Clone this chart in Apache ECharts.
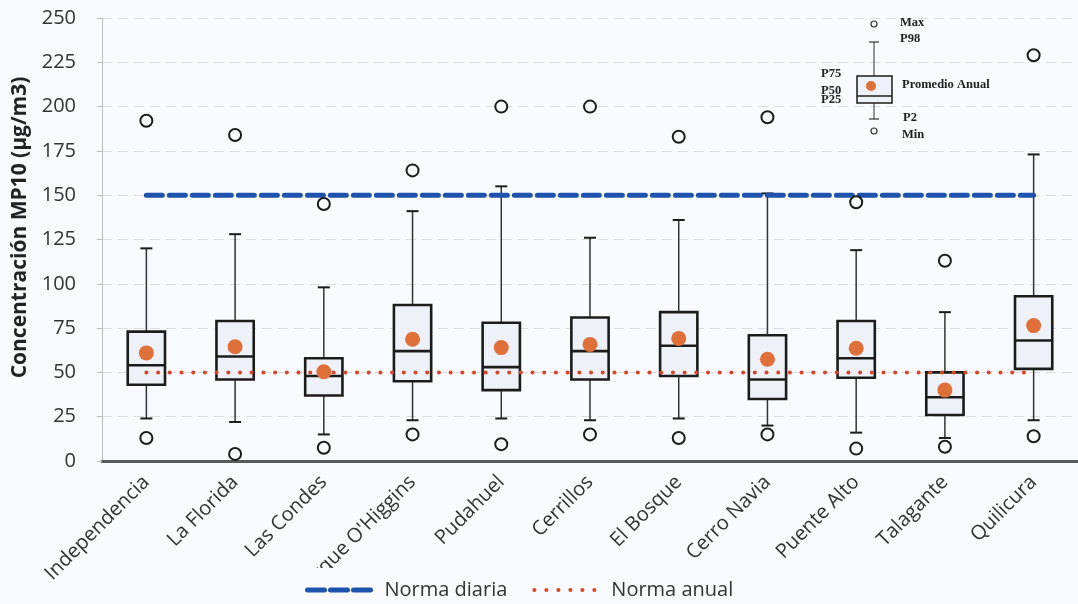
<!DOCTYPE html>
<html>
<head>
<meta charset="utf-8">
<script src="https://cdn.jsdelivr.net/npm/echarts@6/dist/echarts.min.js"></script>
<style>
  html, body { margin: 0; padding: 0; background: #f9fafd; }
  #chart { width: 1078px; height: 604px; }
</style>
</head>
<body>
<div id="chart"></div>
<script>
// Estaciones de monitoreo
const stations = ['Independencia', 'La Florida', 'Las Condes', "Parque O'Higgins", 'Pudahuel',
  'Cerrillos', 'El Bosque', 'Cerro Navia', 'Puente Alto', 'Talagante', 'Quilicura'];

// Estadísticos de MP10 por estación (µg/m3)
const maxVals  = [192, 184, 145, 164, 200, 200, 183, 194, 146, 113, 229];
const p98Vals  = [120, 128,  98, 141, 155, 126, 136, 151, 119,  84, 173];
const p75Vals  = [ 73,  79,  58,  88,  78,  81,  84,  71,  79,  50,  93];
const p50Vals  = [ 54,  59,  48,  62,  53,  62,  65,  46,  58,  36,  68];
const p25Vals  = [ 43,  46,  37,  45,  40,  46,  48,  35,  47,  26,  52];
const p2Vals   = [ 24,  22,  15,  23,  24,  23,  24,  20,  16,  13,  23];
const minVals  = [ 13,   4, 7.5,  15, 9.5,  15,  13,  15,   7,   8,  14];
const meanVals = [ 61, 64.5, 50.4, 68.7, 64, 65.8, 69.2, 57.4, 63.6, 40, 76.4];

// Normas de calidad
const normaDiaria = 150;
const normaAnual = 50;

// Eje Y
const yTicks = [0, 25, 50, 75, 100, 125, 150, 175, 200, 225, 250];

const BG = '#f9fafd';
const BOX_FILL = '#eef1f8';
const INK = '#1c1c1c';
const ORANGE = '#e0703a';
const BLUE = '#1d52ad';
const RED = '#d9452b';

const boxData = stations.map((_, i) => [i, p2Vals[i], p25Vals[i], p50Vals[i], p75Vals[i], p98Vals[i]]);

function renderBox(params, api) {
  const i = api.value(0);
  const x = api.coord([i, 0])[0];
  const y2 = api.coord([i, api.value(1)])[1];
  const y25 = api.coord([i, api.value(2)])[1];
  const y50 = api.coord([i, api.value(3)])[1];
  const y75 = api.coord([i, api.value(4)])[1];
  const y98 = api.coord([i, api.value(5)])[1];
  const band = api.size([1, 0])[0];
  const hw = band * 0.21;
  const cap = 6;
  const thin = { stroke: '#333', lineWidth: 1.5 };
  return {
    type: 'group',
    children: [
      { type: 'line', shape: { x1: x, y1: y75, x2: x, y2: y98 }, style: thin },
      { type: 'line', shape: { x1: x - cap, y1: y98, x2: x + cap, y2: y98 }, style: { stroke: INK, lineWidth: 2 } },
      { type: 'line', shape: { x1: x, y1: y25, x2: x, y2: y2 }, style: thin },
      { type: 'line', shape: { x1: x - cap, y1: y2, x2: x + cap, y2: y2 }, style: { stroke: INK, lineWidth: 2 } },
      { type: 'rect', shape: { x: x - hw, y: y75, width: hw * 2, height: y25 - y75 },
        style: { fill: BOX_FILL, stroke: INK, lineWidth: 2.6 } },
      { type: 'line', shape: { x1: x - hw, y1: y50, x2: x + hw, y2: y50 }, style: { stroke: INK, lineWidth: 2.6 } }
    ]
  };
}

// Leyenda esquemática de los estadísticos (esquina superior derecha)
const keyFont = 'bold 12.5px "Liberation Serif", "DejaVu Serif", serif';
function keyText(text, x, y) {
  return { type: 'text', x: x, y: y, style: { text: text, font: keyFont, fill: '#222', textVerticalAlign: 'middle' }, z: 10 };
}
const kx = 874;
const keyGraphic = [
  { type: 'circle', shape: { cx: kx, cy: 24, r: 3 }, style: { fill: 'none', stroke: '#333', lineWidth: 1.2 }, z: 10 },
  { type: 'line', shape: { x1: kx, y1: 42, x2: kx, y2: 76 }, style: { stroke: '#333', lineWidth: 1 }, z: 10 },
  { type: 'line', shape: { x1: kx - 5, y1: 42, x2: kx + 5, y2: 42 }, style: { stroke: '#333', lineWidth: 1.2 }, z: 10 },
  { type: 'rect', shape: { x: kx - 17, y: 76, width: 35, height: 27 }, style: { fill: BOX_FILL, stroke: INK, lineWidth: 1.5 }, z: 10 },
  { type: 'line', shape: { x1: kx - 17, y1: 96, x2: kx + 18, y2: 96 }, style: { stroke: INK, lineWidth: 1.5 }, z: 10 },
  { type: 'circle', shape: { cx: kx - 3, cy: 86, r: 5 }, style: { fill: ORANGE }, z: 11 },
  { type: 'line', shape: { x1: kx, y1: 103, x2: kx, y2: 119 }, style: { stroke: '#333', lineWidth: 1 }, z: 10 },
  { type: 'line', shape: { x1: kx - 5, y1: 119, x2: kx + 5, y2: 119 }, style: { stroke: '#333', lineWidth: 1.2 }, z: 10 },
  { type: 'circle', shape: { cx: kx, cy: 131, r: 3 }, style: { fill: 'none', stroke: '#333', lineWidth: 1.2 }, z: 10 },
  keyText('Max', 900, 23),
  keyText('P98', 900, 39),
  keyText('P75', 821, 74),
  keyText('P50', 821, 91),
  keyText('P25', 821, 100),
  keyText('Promedio Anual', 902, 85),
  keyText('P2', 903, 118),
  keyText('Min', 902, 135)
];

const chart = echarts.init(document.getElementById('chart'), null, { renderer: 'canvas' });

chart.setOption({
  backgroundColor: BG,
  animation: false,
  textStyle: { fontFamily: '"Open Sans", "Noto Sans", sans-serif' },
  grid: { left: 102, width: 983, top: 18, bottom: 143 },
  legend: {
    data: [
      { name: 'Norma diaria', lineStyle: { color: BLUE, width: 5, type: [17, 6], cap: 'round' } },
      { name: 'Norma anual', lineStyle: { color: RED, width: 4, type: [0.1, 11.9], cap: 'round' } }
    ],
    left: 285, top: 568,
    itemWidth: 63, itemHeight: 10, itemGap: 25,
    padding: [12, 20, 4, 20],
    backgroundColor: BG,
    itemStyle: { opacity: 0 },
    textStyle: { fontSize: 20, color: '#333', padding: [0, 0, 0, 9] }
  },
  xAxis: {
    type: 'category',
    data: stations,
    axisLine: { lineStyle: { color: '#5a5a5a', width: 3 } },
    axisTick: { show: false },
    axisLabel: { rotate: 45, fontSize: 20, color: '#333', margin: 18, interval: 0 }
  },
  yAxis: {
    type: 'value',
    min: yTicks[0], max: yTicks[yTicks.length - 1], interval: 25,
    name: 'Concentración MP10 (µg/m3)',
    nameLocation: 'middle', nameGap: 70,
    nameTextStyle: { fontSize: 21, fontWeight: 'bold', color: '#222', padding: [0, 0, 0, 24] },
    axisLine: { show: true, lineStyle: { color: '#bdbdbd', width: 1 } },
    axisTick: { show: true, length: 5, lineStyle: { color: '#bdbdbd' } },
    axisLabel: { fontSize: 20, color: '#333', margin: 26 },
    splitLine: { lineStyle: { color: '#dcdcdc', type: [10, 6], width: 1 } }
  },
  graphic: keyGraphic,
  series: [
    {
      type: 'custom',
      name: 'Estadísticos',
      renderItem: renderBox,
      data: boxData,
      encode: { x: 0, y: [1, 2, 3, 4, 5] },
      z: 2
    },
    {
      type: 'line',
      name: 'Norma diaria',
      data: stations.map(() => normaDiaria),
      symbol: 'none',
      lineStyle: { color: BLUE, width: 5, type: [16, 7], cap: 'round' },
      itemStyle: { color: BLUE },
      z: 3
    },
    {
      type: 'line',
      name: 'Norma anual',
      data: stations.map(() => normaAnual),
      symbol: 'none',
      lineStyle: { color: RED, width: 4, type: [0.1, 11.6], cap: 'round' },
      itemStyle: { color: RED },
      z: 3
    },
    {
      type: 'scatter',
      name: 'Máximo',
      data: maxVals.map((v, i) => [i, v]),
      symbol: 'circle', symbolSize: 12,
      itemStyle: { color: BG, borderColor: INK, borderWidth: 2, opacity: 1 },
      z: 4
    },
    {
      type: 'scatter',
      name: 'Mínimo',
      data: minVals.map((v, i) => [i, v]),
      symbol: 'circle', symbolSize: 12,
      itemStyle: { color: BG, borderColor: INK, borderWidth: 2, opacity: 1 },
      z: 4
    },
    {
      type: 'scatter',
      name: 'Promedio Anual',
      data: meanVals.map((v, i) => [i, v]),
      symbol: 'circle', symbolSize: 15,
      itemStyle: { color: ORANGE, opacity: 1 },
      z: 5
    }
  ]
});
</script>
</body>
</html>
